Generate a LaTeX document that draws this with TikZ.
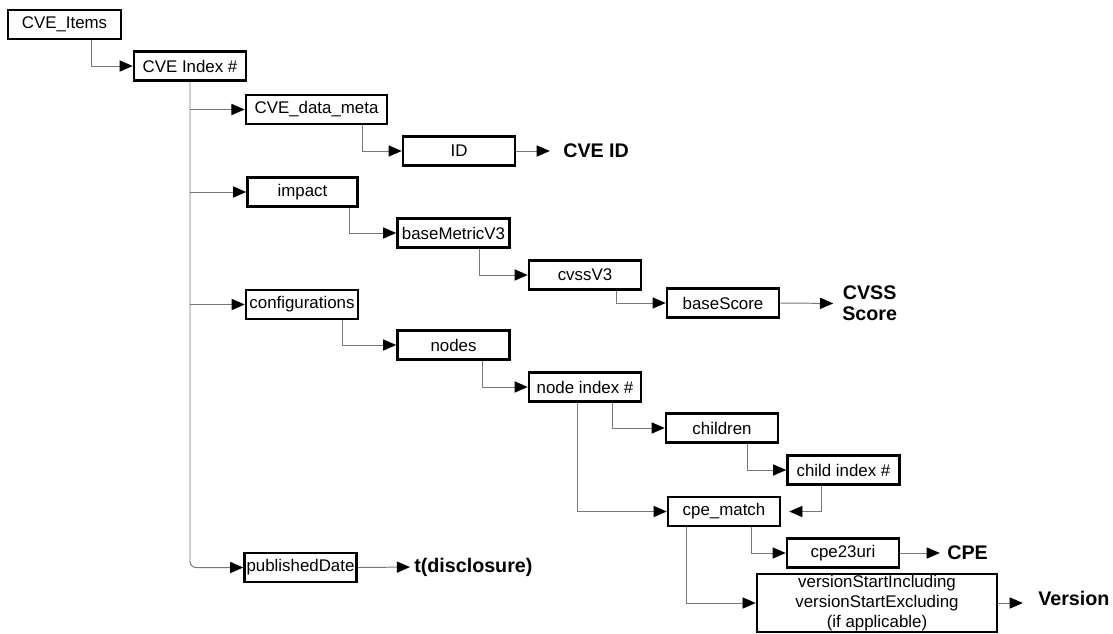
\documentclass[tikz,border=0pt]{standalone}
\usepackage{fontspec}
\setmainfont{Liberation Sans}
\usetikzlibrary{arrows.meta,calc}
\definecolor{linegray}{RGB}{120,120,120}

\begin{document}
\begin{tikzpicture}[x=0.025cm,y=-0.025cm,
    box/.style={draw=black,line width=1.8pt,minimum width=2.8cm,minimum height=0.72cm,inner sep=0pt,font=\fontsize{12}{14}\selectfont},
    conn/.style={draw=linegray,line width=0.7pt,-{Triangle[length=0.33cm,width=0.28cm,color=black]}},
    result/.style={anchor=west,inner sep=0pt,align=center,font=\fontsize{14}{15}\selectfont\bfseries}]
        \useasboundingbox (0,0) rectangle (1113,633);

        \node[box,minimum width=2.83cm] (items) at (64.5,24.5) {CVE\_Items};
        \node[box] (index) at (190,66) {CVE Index \#};
        \node[box,minimum width=3.53cm] (meta) at (316.5,109.5) {CVE\_data\_meta};
        \node[box] (id) at (459,151) {ID};
        \node[box,minimum width=2.75cm] (impact) at (302.5,192) {impact};
        \node[box] (bmv3) at (453.5,233) {baseMetricV3};
        \node[box] (cvss) at (585,275) {cvssV3};
        \node[box] (score) at (723,303) {baseScore};
        \node[box] (conf) at (302,304.5) {configurations};
        \node[box] (nodes) at (453.5,345) {nodes};
        \node[box] (nidx) at (585,387) {node index \#};
        \node[box] (children) at (722,428) {children};
        \node[box] (cidx) at (843.5,470) {child index \#};
        \node[box] (match) at (724,511.5) {cpe\_match};
        \node[box] (uri) at (843,553) {cpe23uri};
        \node[box,minimum width=6cm,minimum height=1.45cm,align=center,font=\fontsize{12}{14.2}\selectfont] (ver) at (877,603) {versionStartIncluding\\versionStartExcluding\\(if applicable)};
        \node[box] (pub) at (300.5,567.5) {publishedDate};

        \node[result] (cveid) at (563,151) {CVE ID};
        \node[result] (cvssscore) at (842,303.5) {CVSS\\Score};
        \node[result] (cpe) at (947,553) {CPE};
        \node[result] (version) at (1038,598) {Version};
        \node[result] (tdisc) at (414,567) {t(disclosure)};

        \draw[conn] ($(items.south west)+(85,0)$) |- (index.west);
        \draw[conn,rounded corners=0.15cm] (index.south) |- (pub.west);
        \draw[conn] (index.south |- meta.west) -- (meta.west);
        \draw[conn] (index.south |- impact.west) -- (impact.west);
        \draw[conn] (index.south |- conf.west) -- (conf.west);
        \draw[conn] ($(meta.south west)+(118,0)$) |- (id.west);
        \draw[conn] ($(impact.south west)+(103,0)$) |- (bmv3.west);
        \draw[conn] ($(bmv3.south west)+(83,0)$) |- (cvss.west);
        \draw[conn] ($(cvss.south west)+(89,0)$) |- (score.west);
        \draw[conn] ($(conf.south west)+(98,0)$) |- (nodes.west);
        \draw[conn] ($(nodes.south west)+(86,0)$) |- (nidx.west);
        \draw[conn] ($(nidx.south west)+(85,0)$) |- (children.west);
        \draw[conn] ($(nidx.south west)+(50,0)$) |- (match.west);
        \draw[conn] ($(children.south west)+(83,0)$) |- (cidx.west);
        \draw[conn,shorten >=0.2cm] ($(cidx.south west)+(35,0)$) |- (match.east);
        \draw[conn] ($(match.south west)+(85,0)$) |- (uri.west);
        \draw[conn] ($(match.south west)+(20,0)$) |- (ver.west);

        \draw[conn,shorten >=0.33cm] (id.east) -- (cveid.west);
        \draw[conn,shorten >=0.22cm] (score.east) -- (cvssscore.west);
        \draw[conn,shorten >=0.18cm] (uri.east) -- (cpe.west);
        \draw[conn,shorten >=0.38cm] (ver.east) -- (ver.east -| version.west);
        \draw[conn,shorten >=0.1cm] (pub.east) -- (tdisc.west);
    \end{tikzpicture}
\end{document}
